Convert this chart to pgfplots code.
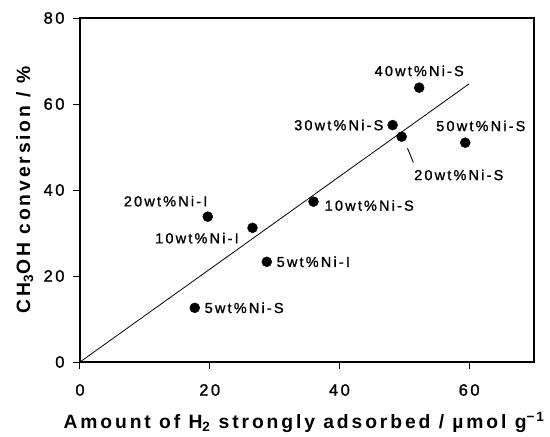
\documentclass[border=0pt]{standalone}
\usepackage{pgfplots}
\pgfplotsset{compat=1.18}
\usepackage{fontspec}
\setmainfont[LetterSpace=15]{Liberation Sans}
\newfontfamily\lblfont[LetterSpace=15, FakeBold=1.2]{Liberation Sans}
\usetikzlibrary{calc}
\begin{document}
\begin{tikzpicture}
\begin{axis}[
  name=ax,
  width=454pt, height=344pt, scale only axis,
  xmin=0, xmax=70, ymin=0, ymax=80,
  xtick={0,20,40,60}, ytick={0,20,40,60,80},
  tick pos=left, tick align=outside,
  major tick length=7pt,
  axis line style={line width=1.3pt},
  every tick/.style={black, line width=1pt},
  /pgf/number format/assume math mode=true,
  ticklabel style={font=\lblfont\fontsize{16.5}{18}\selectfont},
  xticklabel style={anchor=center, yshift=-21pt},
  yticklabel style={xshift=-5pt},
  xlabel={Amount of H\textsubscript{2} strongly adsorbed / µmol g\textsuperscript{−1}},
  ylabel={CH\textsubscript{3}OH conversion / \%},
  label style={font=\bfseries\fontsize{19.3}{21}\selectfont},
  xlabel style={at={(axis description cs:0.5,-0.194)}, anchor=base, xshift=-3pt},
  ylabel style={at={(axis description cs:-0.110,0.5)}, anchor=base},
  clip=false,
]
% measured points
\addplot[only marks, mark=*, mark size=5pt, black] coordinates {
  (17.7,12.6) (19.7,33.8) (26.6,31.2) (28.8,23.3) (36.0,37.3)
  (48.2,55.1) (49.6,52.4) (52.3,63.8) (59.4,51.0)
};
% fitted line
\addplot[black, line width=0.8pt] coordinates {(0,0) (60,64.7)};
% leader for 20wt%Ni-S
\addplot[black, line width=0.9pt] coordinates {(50.5,49.7) (51.4,46.4)};

\begin{scope}[every node/.style={font=\lblfont\fontsize{14.5}{16}\selectfont, inner sep=0pt}]
\node[anchor=center] at (axis cs:52.3,67.7) {40wt\%Ni-S};
\node[anchor=east]   at (axis cs:46.8,55.1) {30wt\%Ni-S};
\node[anchor=center] at (axis cs:61.8,54.9) {50wt\%Ni-S};
\node[anchor=west]   at (axis cs:51.5,43.5) {20wt\%Ni-S};
\node[anchor=west]   at (axis cs:37.7,36.4) {10wt\%Ni-S};
\node[anchor=center] at (axis cs:13.2,37.4) {20wt\%Ni-I};
\node[anchor=east]   at (axis cs:24.5,28.8) {10wt\%Ni-I};
\node[anchor=west]   at (axis cs:30.3,23.3) {5wt\%Ni-I};
\node[anchor=west]   at (axis cs:19.2,12.6) {5wt\%Ni-S};
\end{scope}
\end{axis}
\pgfresetboundingbox
\path[use as bounding box] ($(ax.south west)+(-80pt,-74pt)$) rectangle ($(ax.north east)+(16pt,18pt)$);
\end{tikzpicture}
\end{document}
